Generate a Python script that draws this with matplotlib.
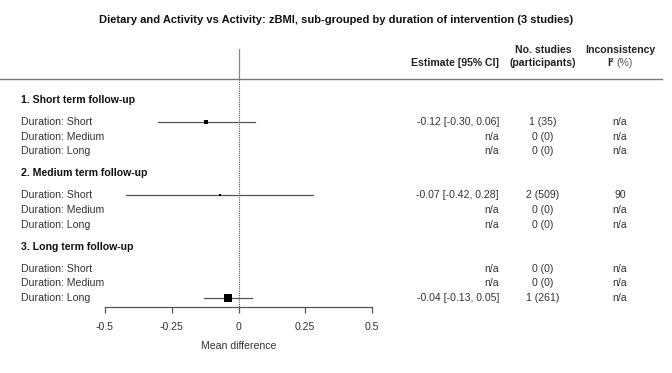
import matplotlib
matplotlib.use("Agg")
import matplotlib.pyplot as plt
from matplotlib.lines import Line2D
from matplotlib.transforms import blended_transform_factory

plt.rcParams['font.family'] = ['Liberation Sans', 'DejaVu Sans']

# data
groups = ["1. Short term follow-up", "2. Medium term follow-up", "3. Long term follow-up"]
subgroups = ["Duration: Short", "Duration: Medium", "Duration: Long"]
est = [[-0.12, None, None], [-0.07, None, None], [None, None, -0.04]]
ci_lo = [[-0.30, None, None], [-0.42, None, None], [None, None, -0.13]]
ci_hi = [[0.06, None, None], [0.28, None, None], [None, None, 0.05]]
n_studies = [[1, 0, 0], [2, 0, 0], [0, 0, 1]]
n_part = [[35, 0, 0], [509, 0, 0], [0, 0, 261]]
i2 = [["n/a", "n/a", "n/a"], ["90", "n/a", "n/a"], ["n/a", "n/a", "n/a"]]
box_size = [[2.9, 0, 0], [2.0, 0, 0], [0, 0, 5.8]]
xticks = [-0.5, -0.25, 0, 0.25, 0.5]
xticklabels = ["-0.5", "-0.25", "0", "0.25", "0.5"]

W, H = 672, 373
fig = plt.figure(figsize=(W / 100, H / 100), dpi=100)
ax = fig.add_axes([105 / W, (H - 307) / H, 267 / W, 307 / H])
ax.set_xlim(-0.5, 0.5)
ax.set_ylim(307, 0)
tr = blended_transform_factory(fig.transFigure, ax.transData)

fs = 7.6
txt = '#333333'
line_c = '#555555'

def put(x, y, s, **kw):
    kw.setdefault('fontsize', fs)
    kw.setdefault('color', txt)
    ax.text(x / W, y, s, transform=tr, va='center', clip_on=False, **kw)

# title and column headers
fig.text(0.5, 1 - 20 / H, "Dietary and Activity vs Activity: zBMI, sub-grouped by duration of intervention (3 studies)",
         ha='center', va='center', fontsize=8.0, fontweight='bold', color='#111111')
put(499, 63, "Estimate [95% CI]", ha='right', fontweight='bold', color='#222222')
put(543, 50, "No. studies", ha='center', fontweight='bold', color='#222222')
put(543, 63, "(participants)", ha='center', fontweight='bold', color='#222222')
put(620, 50, "Inconsistency", ha='center', fontweight='bold', color='#222222')
put(614, 63, "I²", ha='right', fontweight='bold', color='#222222')
put(616, 63, "(%)", ha='left', color='#555555')
ax.add_line(Line2D([0, 662 / W], [79, 79], transform=tr, color='#777777', lw=1.0, clip_on=False))

# zero line
ax.plot([0, 0], [49, 79], color='#888888', lw=0.9, clip_on=False)
ax.plot([0, 0], [79, 307], color='#555555', lw=0.8, ls=(0, (1, 1)), clip_on=False)

# rows
y = 100
for g in range(3):
    put(21, y, groups[g], fontweight='bold', color='#111111')
    y += 22
    for k in range(3):
        put(21, y, subgroups[k])
        if est[g][k] is not None:
            ax.plot([ci_lo[g][k], ci_hi[g][k]], [y, y], color=line_c, lw=0.9)
            ax.plot(est[g][k], y, 's', color='black', markersize=box_size[g][k], mew=0)
            put(499, y, f"{est[g][k]:.2f} [{ci_lo[g][k]:.2f}, {ci_hi[g][k]:.2f}]", ha='right')
        else:
            put(499, y, "n/a", ha='right')
        put(543, y, f"{n_studies[g][k]} ({n_part[g][k]})", ha='center')
        put(620, y, i2[g][k], ha='center')
        y += 14.7
    y += 7.3

# axis
for s in ['top', 'left', 'right']:
    ax.spines[s].set_visible(False)
ax.spines['bottom'].set_bounds(-0.5, 0.5)
ax.spines['bottom'].set_color(line_c)
ax.spines['bottom'].set_linewidth(0.9)
ax.set_yticks([])
ax.set_xticks(xticks)
ax.set_xticklabels(xticklabels)
ax.tick_params(axis='x', length=4.5, width=0.9, color=line_c, labelsize=fs, labelcolor=txt, pad=6.5)
ax.set_xlabel("Mean difference", fontsize=fs, color=txt, labelpad=6.5)

fig.savefig("out.png", dpi=100)
